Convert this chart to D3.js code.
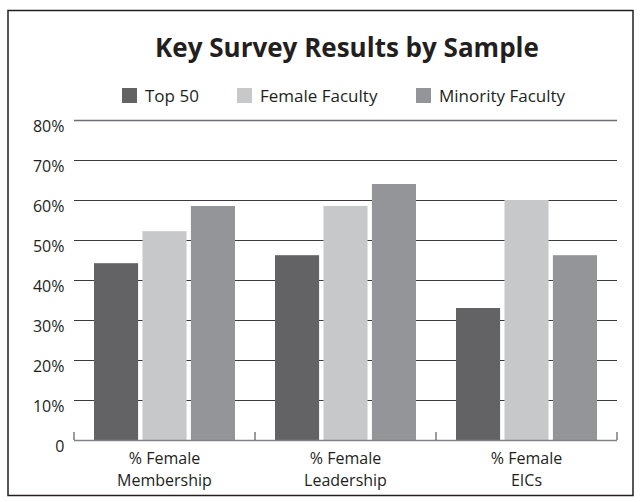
<!DOCTYPE html>
<html><head><meta charset="utf-8">
<script src="https://cdn.jsdelivr.net/npm/d3@7"></script>
<style>html,body{margin:0;padding:0;background:#fff;} svg{display:block;}</style>
</head><body>
<script>
const categories = [["% Female","Membership"],["% Female","Leadership"],["% Female","EICs"]];
const seriesNames = ["Top 50","Female Faculty","Minority Faculty"];
const top50 = [44.2, 46.2, 33.0];
const femaleFaculty = [52.2, 58.5, 60.0];
const minorityFaculty = [58.5, 64.0, 46.2];
const seriesColors = ["#636365","#c7c8ca","#939598"];
const yTicks = [0,10,20,30,40,50,60,70,80];
const yTickLabels = ["0","10%","20%","30%","40%","50%","60%","70%","80%"];
const title = "Key Survey Results by Sample";

const series = [top50, femaleFaculty, minorityFaculty];
const W = 640, H = 502;
const font = "'Open Sans', sans-serif";
const svg = d3.select("body").append("svg").attr("width", W).attr("height", H);

// frame
svg.append("rect").attr("x",8).attr("y",10.5).attr("width",625).attr("height",485)
  .attr("fill","none").attr("stroke","#231f20").attr("stroke-width",1.5);

const x0 = d3.scaleBand().domain(d3.range(categories.length)).range([74, 617]).paddingInner(0).paddingOuter(0);
const x1 = d3.scaleBand().domain(d3.range(series.length)).range([20, x0.bandwidth()-20]).paddingInner(0.09);
const y = d3.scaleLinear().domain([0, 80]).range([440, 120]);

// gridlines
svg.append("g").selectAll("line").data(yTicks.filter(t=>t>0)).join("line")
  .attr("x1", 74).attr("x2", 617)
  .attr("y1", d=>Math.round(y(d))+0.5).attr("y2", d=>Math.round(y(d))+0.5)
  .attr("stroke", d=> d===80 ? "#6d6e71" : "#3a3a3c").attr("stroke-width", d=> d===80 ? 1.6 : 1.2);

// y labels
svg.append("g").selectAll("text").data(yTicks).join("text")
  .attr("x", 64.5).attr("y", d=>y(d)+11.5)
  .attr("text-anchor","end").attr("font-family",font).attr("font-size",16).attr("fill","#231f20")
  .text((d,i)=>yTickLabels[i]);

// bars
const g = svg.append("g");
categories.forEach((c,ci)=>{
  series.forEach((s,si)=>{
    g.append("rect")
      .attr("x", x0(ci)+x1(si)).attr("width", x1.bandwidth())
      .attr("y", y(s[ci])).attr("height", y(0)-y(s[ci]))
      .attr("fill", seriesColors[si]);
  });
});

// baseline with upward ticks
svg.append("line").attr("x1",74).attr("x2",617).attr("y1",y(0)+0.5).attr("y2",y(0)+0.5)
  .attr("stroke","#808285").attr("stroke-width",1.5);
const tickXs = d3.range(categories.length+1).map(i=> i<categories.length ? x0(i) : x0.range()[1]);
svg.append("g").selectAll("line").data(tickXs).join("line")
  .attr("x1",d=>d).attr("x2",d=>d).attr("y1",y(0)-8).attr("y2",y(0))
  .attr("stroke","#58595b").attr("stroke-width",1.2);

// x labels (two lines each)
categories.forEach((c,ci)=>{
  c.forEach((line,li)=>{
    svg.append("text").attr("text-anchor","middle").attr("font-family",font).attr("font-size",16).attr("fill","#231f20")
      .attr("x", x0(ci)+x0.bandwidth()/2).attr("y", 464 + li*22).text(line);
  });
});

// title
svg.append("text").attr("x", 347).attr("y", 57).attr("text-anchor","middle")
  .attr("font-family",font).attr("font-weight","bold").attr("font-size",26).attr("fill","#231f20").text(title);

// legend
const legendX = [122, 237, 416];
seriesNames.forEach((n,i)=>{
  svg.append("rect").attr("x", legendX[i]).attr("y", 88).attr("width",15).attr("height",15).attr("fill",seriesColors[i]);
  svg.append("text").attr("x", legendX[i]+23).attr("y", 102)
    .attr("font-family",font).attr("font-size",17).attr("fill","#231f20").text(n);
});
</script>
</body></html>
